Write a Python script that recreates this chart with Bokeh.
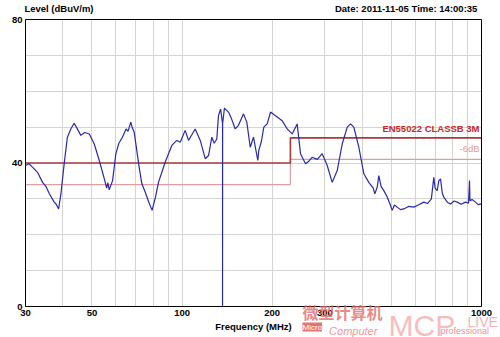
from bokeh.plotting import figure
from bokeh.models import (Range1d, FixedTicker, NumeralTickFormatter, Label, LogAxis,
                          LinearAxis, BoxAnnotation)
from bokeh.embed import file_html
from bokeh.resources import INLINE

# ---- data ----
freq_mhz = [30.0, 30.8, 31.7, 32.9, 34.2, 35.1, 36.0, 37.4, 38.0, 38.7, 39.4, 40.4, 41.4, 42.5,
            43.6, 44.5, 45.9, 47.3, 49.0, 50.9, 52.9, 55.0, 56.0, 56.5, 57.1, 58.6, 60.1, 61.5,
            63.2, 65.0, 66.0, 67.4, 68.2, 69.2, 71.9, 73.4, 75.3, 77.5, 79.4, 81.5, 83.4, 87.8,
            92.4, 96.0, 98.6, 102.4, 105.1, 108.0, 110.6, 115.0, 119.5, 122.6, 125.7, 128.0,
            130.6, 132.3, 134.5, 136.5, 136.5, 136.6, 138.5, 142.9, 146.0, 150.5, 154.3, 160.4,
            164.5, 168.9, 173.2, 179.0, 180.4, 184.0, 187.5, 192.4, 197.4, 205.1, 215.9, 224.4,
            233.2, 242.3, 248.6, 258.4, 265.0, 272.0, 283.0, 293.8, 305.3, 317.2, 329.7, 342.6,
            356.1, 365.2, 374.6, 389.3, 404.6, 420.4, 435.0, 440.3, 448.5, 454.0, 462.0, 471.9,
            484.3, 495.0, 503.3, 512.0, 523.0, 536.0, 550.3, 570.0, 594.2, 615.0, 641.7, 660.0,
            680.0, 692.9, 700.0, 711.3, 720.0, 729.6, 740.0, 748.3, 770.0, 787.8, 810.0, 829.6,
            855.0, 884.4, 905.0, 912.0, 915.0, 930.0, 955.0, 975.0, 1000.0]
level_dbuv = [39.3, 39.8, 38.8, 37.4, 34.6, 33.5, 31.5, 29.1, 28.5, 27.2, 31.5, 39.9, 47.2, 49.5,
              51.1, 49.8, 47.7, 48.5, 48.1, 45.3, 40.7, 35.6, 33.0, 34.5, 32.5, 35.1, 42.6, 45.5,
              47.2, 49.5, 48.8, 51.4, 49.8, 48.6, 38.8, 34.2, 31.9, 29.0, 26.8, 30.5, 34.6, 40.2,
              44.9, 46.3, 45.8, 49.1, 46.3, 48.0, 49.5, 46.3, 41.2, 42.1, 47.2, 45.5,
              46.7, 53.2, 55.0, 51.0, 0.0, 51.0, 55.3, 54.2, 52.5, 49.5, 50.5, 53.7,
              51.4, 44.4, 47.2, 40.7, 43.5, 46.0, 50.0, 50.9, 54.2, 53.2, 51.8, 49.5,
              48.1, 50.9, 42.6, 39.8, 40.5, 41.6, 41.0, 42.6, 39.3, 34.6, 37.9, 45.3,
              50.0, 50.9, 50.0, 44.4, 37.0, 34.6, 33.0, 31.4, 33.3, 36.5, 33.5, 32.3,
              30.5, 28.5, 26.8, 28.3, 27.7, 27.0, 27.2, 27.9, 27.7, 28.3, 29.1, 28.7,
              30.0, 36.0, 33.0, 32.3, 35.0, 35.6, 31.5, 30.5, 29.0, 28.6, 29.4, 29.1,
              28.5, 29.1, 28.8, 35.1, 29.5, 29.8, 29.1, 28.4, 28.6]

limit_freq = [30, 230, 230, 1000]
limit_level = [40, 40, 47, 47]
limit6_level = [34, 34, 41, 41]

x_tick_values = [30, 50, 100, 200, 300, 1000]
x_grid_values = [40, 50, 60, 70, 80, 90, 100, 200, 300, 400, 500, 600, 700, 800, 900]
y_tick_values = [0, 40, 80]
y_grid_values = [10, 20, 30, 40, 50, 60, 70]

header_positions = [38.8, 566]
header_texts = ["Level (dBuV/m)", "Date: 2011-11-05  Time: 14:00:35"]

FONT = "Liberation Sans"
FS = "9.5px"
F_MIN, F_MAX = 30, 1000
L_MIN, L_MAX = 0, 80

# the frame fills the whole page, so axis labels and the watermark are not cut;
# the chart box itself spans 30-1000 MHz and 0-80 dBuV/m
p = figure(width=500, height=337, x_axis_type="log",
           x_range=Range1d(24.75, 1157.3), y_range=Range1d(-8.64, 85.30),
           output_backend="svg", toolbar_location=None,
           min_border_left=0, min_border_right=0, min_border_top=0, min_border_bottom=0)
p.background_fill_color = "white"
p.border_fill_color = "white"
p.outline_line_color = None

p.xgrid.ticker = FixedTicker(ticks=x_grid_values)
p.ygrid.ticker = FixedTicker(ticks=y_grid_values)
p.grid.grid_line_color = "#d4d4d4"
p.grid.grid_line_width = 1

# white masks outside the chart box (hide grid lines there)
for mask in (dict(top=L_MIN), dict(bottom=L_MAX), dict(left=F_MAX), dict(right=F_MIN)):
    p.add_layout(BoxAnnotation(fill_color="white", fill_alpha=1, line_color=None,
                               level="underlay", **mask))

def style_axis(ax):
    ax.major_tick_out = 0
    ax.major_tick_in = 0
    ax.minor_tick_out = 0
    ax.minor_tick_in = 0
    ax.axis_line_color = "black"
    ax.major_label_text_font = FONT
    ax.major_label_text_font_style = "bold"
    ax.major_label_text_font_size = FS
    ax.major_label_text_color = "black"

xa = p.xaxis[0]
style_axis(xa)
xa.fixed_location = L_MIN
xa.bounds = (F_MIN, F_MAX)
xa.ticker = FixedTicker(ticks=x_tick_values)
xa.formatter = NumeralTickFormatter(format="0")
xa.major_label_standoff = 3
xa.axis_label = "Frequency (MHz)"
xa.axis_label_text_font = FONT
xa.axis_label_text_font_style = "bold"
xa.axis_label_text_font_size = FS
xa.axis_label_text_color = "black"
xa.axis_label_standoff = 2

ya = p.yaxis[0]
style_axis(ya)
ya.fixed_location = F_MIN
ya.bounds = (L_MIN, L_MAX)
ya.ticker = FixedTicker(ticks=y_tick_values)
ya.formatter = NumeralTickFormatter(format="0")
ya.major_label_standoff = 3

# right edge of the box
rb = LinearAxis(fixed_location=F_MAX, bounds=(L_MIN, L_MAX), ticker=FixedTicker(ticks=[]))
style_axis(rb)
p.add_layout(rb, "right")

# header texts, carried by a bare axis on the box top (its line is the box top)
top = LogAxis(ticker=FixedTicker(ticks=header_positions), bounds=(F_MIN, F_MAX),
              fixed_location=L_MAX,
              major_label_overrides={k: t for k, t in zip(header_positions, header_texts)})
style_axis(top)
top.major_label_standoff = 6
p.add_layout(top, "above")

# limit lines
p.line(limit_freq, limit6_level, line_color="#dca0a0", line_width=1.2)
p.line(limit_freq, limit_level, line_color="#a83a3a", line_width=1.6)

# trace
p.line(freq_mhz, level_dbuv, line_color="#2a2aa8", line_width=1.2)

# limit labels
p.add_layout(Label(x=985, y=48.2, text="EN55022 CLASSB 3M", text_font=FONT, text_font_style="bold",
                   text_font_size=FS, text_color="#c42a2a", text_align="right"))
p.add_layout(Label(x=985, y=42.4, text="-6dB", text_font=FONT,
                   text_font_size=FS, text_color="#e39a9a", text_align="right"))

# watermark
wm = [
    dict(x=252.5, y=-5.0, text="微型计算机", text_font="Noto Sans CJK SC", text_font_style="bold",
         text_font_size="16px", text_color="#e06a6a", text_alpha=0.8),
    dict(x=252.5, y=-7.0, text="Micro", text_font=FONT, text_font_size="8px", text_color="white",
         background_fill_color="#e05a5a", background_fill_alpha=0.85),
    dict(x=309.7, y=-6.69, text="Computer", text_font=FONT, text_font_style="italic",
         text_font_size="11px", text_color="#ee8080", text_alpha=0.85, text_baseline="alphabetic"),
    dict(x=489.3, y=-5.3, text="MCP", text_font=FONT,
         text_font_size="30px", text_color="#f07c7c", text_alpha=0.5, text_baseline="alphabetic"),
    dict(x=897.9, y=-4.18, text="LIVE", text_font=FONT,
         text_font_size="14px", text_color="#f07c7c", text_alpha=0.6, text_baseline="alphabetic"),
    dict(x=729.6, y=-6.69, text="professional", text_font=FONT,
         text_font_size="9px", text_color="#e87070", text_alpha=0.8, text_baseline="alphabetic"),
]
for kw in wm:
    p.add_layout(Label(**kw))

open("out.html", "w").write(file_html(p, INLINE))
